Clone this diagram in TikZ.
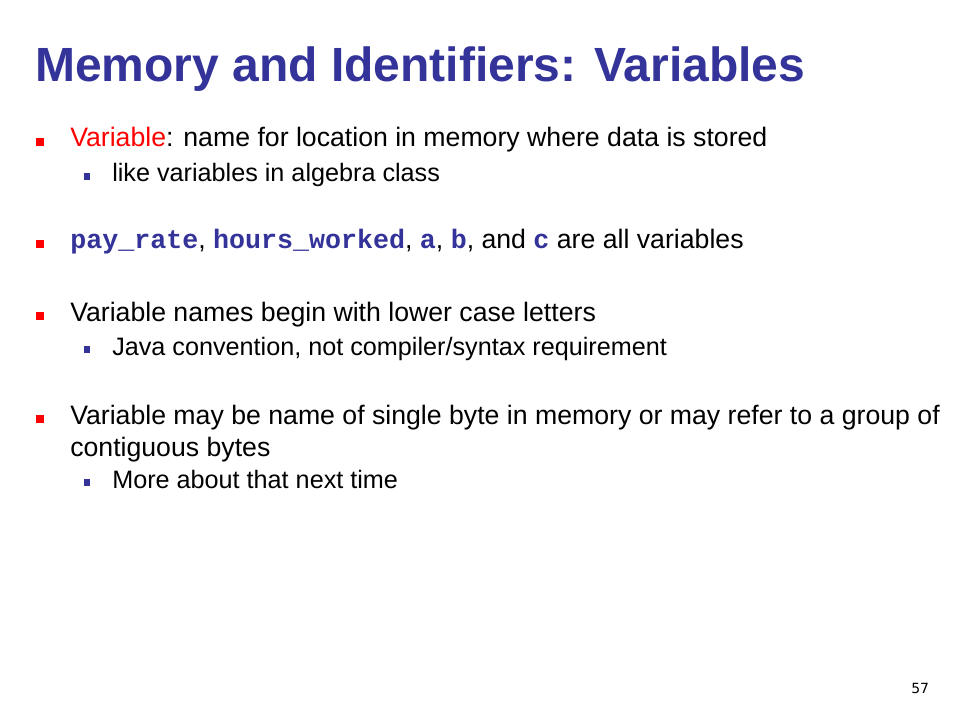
\documentclass[tikz,border=0pt]{standalone}
\usepackage{fontspec}
\setmainfont{Liberation Sans}
\newfontfamily\codefont{Liberation Mono}
\newfontfamily\pagefont{DejaVu Sans}
\usetikzlibrary{positioning}
\definecolor{titleblue}{RGB}{51,51,153}
\definecolor{keyred}{RGB}{255,0,0}
\newcommand{\vcode}[1]{{\codefont\bfseries\color{titleblue}#1}}

\begin{document}
\begin{tikzpicture}[x=0.75pt, y=-0.75pt,
    lvlone/.style={anchor=base west, inner sep=0pt, font=\fontsize{20}{24}\selectfont},
    lvltwo/.style={anchor=base west, inner sep=0pt, font=\fontsize{18.9}{22.7}\selectfont},
    bulone/.style={rectangle, fill=keyred, inner sep=0pt, minimum size=6pt},
    bultwo/.style={rectangle, fill=titleblue, inner sep=0pt, minimum size=5.2pt}]
        \useasboundingbox[fill=white] (0,0) rectangle (960,720);
        \node[anchor=base west, inner sep=0pt, text=titleblue, font=\fontsize{36}{43}\selectfont\bfseries] (title) at (35, 82) {Memory and Identifiers: Variables};
        % first point
        \node[bulone] (b1) at (40, 142) {};
        \node[lvlone] (t1) at (70, 147) {\textcolor{keyred}{Variable}: name for location in memory where data is stored};
        \node[bultwo] (b1a) at (87, 176.5) {};
        \node[lvltwo] (t1a) at (112, 182) {like variables in algebra class};
        % second point
        \node[bulone] (b2) at (40, 244) {};
        \node[lvlone] (t2) at (70, 249) {\vcode{pay\_rate}, \vcode{hours\_worked}, \vcode{a}, \vcode{b}, and \vcode{c} are all variables};
        % third point
        \node[bulone] (b3) at (40, 316) {};
        \node[lvlone] (t3) at (70, 321) {Variable names begin with lower case letters};
        \node[bultwo] (b3a) at (87, 349.5) {};
        \node[lvltwo] (t3a) at (112, 355) {Java convention, not compiler/syntax requirement};
        % fourth point
        \node[bulone] (b4) at (40, 419) {};
        \node[lvlone] (t4) at (70, 424) {Variable may be name of single byte in memory or may refer to a group of};
        \node[lvlone] (t4b) at (70, 456) {contiguous bytes};
        \node[bultwo] (b4a) at (87, 482.5) {};
        \node[lvltwo] (t4a) at (112, 488) {More about that next time};
        \node[anchor=base west, inner sep=0pt, font=\pagefont\fontsize{10.5}{12}\selectfont] (page) at (911, 693) {57};
    \end{tikzpicture}
\end{document}
